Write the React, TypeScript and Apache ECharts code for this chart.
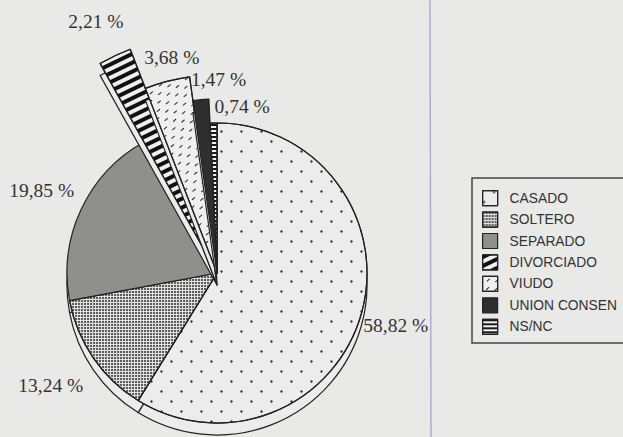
import React, { useEffect, useRef } from 'react';
import * as echarts from 'echarts';

// ---- data ----
const categories = ['CASADO', 'SOLTERO', 'SEPARADO', 'DIVORCIADO', 'VIUDO', 'UNION CONSEN', 'NS/NC'];
const percentages = [58.82, 13.24, 19.85, 2.21, 3.68, 1.47, 0.74];
const explodedCategories = ['DIVORCIADO', 'VIUDO', 'UNION CONSEN'];

// ---- layout & style ----
const CENTER: [number, number] = [217, 273];
const RADIUS = 150;
const DEPTH = 12;
const explodedRadius: Record<string, number> = { DIVORCIADO: 240, VIUDO: 198, 'UNION CONSEN': 174 };
const BORDER = '#222';
const BG = '#e9e9e8';
const SERIF = "'Liberation Serif', 'Times New Roman', serif";
const SANS = "'Liberation Sans', Arial, sans-serif";

const sliceStyles: Record<string, any> = {
  CASADO: {
    color: '#ececec',
    decal: { symbol: 'circle', symbolSize: 0.8, color: '#2a2a2a', dashArrayX: [[3, 17], [0, 10, 3, 7]], dashArrayY: [3, 7] },
  },
  SOLTERO: {
    color: '#e2e2e2',
    decal: { symbol: 'circle', symbolSize: 0.95, color: '#3a3a3a', dashArrayX: [2, 1], dashArrayY: [2, 1] },
  },
  SEPARADO: { color: '#8f908e' },
  DIVORCIADO: {
    color: '#efefef',
    decal: { symbol: 'rect', symbolSize: 1, color: '#111', dashArrayX: [1, 0], dashArrayY: [4, 4], rotation: -0.45 },
  },
  VIUDO: {
    color: '#efefef',
    decal: { symbol: 'rect', symbolSize: 1, color: '#222', dashArrayX: [[4, 8], [0, 6, 4, 2]], dashArrayY: [1, 5], rotation: -0.7 },
  },
  'UNION CONSEN': { color: '#2e2e2e' },
  'NS/NC': {
    color: '#f2f2f2',
    decal: { symbol: 'rect', symbolSize: 1, color: '#1a1a1a', dashArrayX: [1, 0], dashArrayY: [2, 2] },
  },
};

// label fine-tuning (pixels relative to the library's outside-label anchor)
const labelNudge: Record<string, { dx: number; dy: number; align?: string }> = {
  CASADO: { dx: -3, dy: 11 },
  SOLTERO: { dx: -5, dy: 28 },
  SEPARADO: { dx: -2, dy: -19 },
  'NS/NC': { dx: 6, dy: -17, align: 'left' },
  DIVORCIADO: { dx: -14, dy: -34, align: 'center' },
  VIUDO: { dx: -18, dy: -24, align: 'left' },
  'UNION CONSEN': { dx: -5, dy: -20, align: 'left' },
};

const fmt = (v: number) => `${v.toFixed(2).replace('.', ',')} %`;

const hidden = { color: 'rgba(0,0,0,0)', borderWidth: 0, borderColor: 'rgba(0,0,0,0)' };

function makePie(opts: {
  name: string;
  radius: number;
  center: [number, number];
  z: number;
  visible: (n: string) => boolean;
  rim: boolean;
  labels: (n: string) => boolean;
}) {
  return {
    type: 'pie',
    name: opts.name,
    z: opts.z,
    radius: [0, opts.radius],
    center: opts.center,
    startAngle: 90,
    clockwise: true,
    avoidLabelOverlap: false,
    silent: true,
    emphasis: { disabled: true, scale: false },
    label: {
      position: 'outside',
      fontFamily: SERIF,
      fontSize: 19.5,
      color: '#333',
      distanceToLabelLine: 5,
      formatter: (p: any) => fmt(p.value),
    },
    labelLine: { show: false, length: 0, length2: 0 },
    labelLayout: (p: any) => {
      const n = categories[p.dataIndex];
      const t = labelNudge[n] || { dx: 0, dy: 0 };
      const r: any = { dx: t.dx, dy: t.dy, hideOverlap: false, moveOverlap: false };
      if (t.align) r.align = t.align;
      return r;
    },
    data: categories.map((n, i) => {
      const vis = opts.visible(n);
      const style = !vis
        ? hidden
        : opts.rim
        ? { color: '#ececec', borderColor: BORDER, borderWidth: 1.2 }
        : { ...sliceStyles[n], borderColor: BORDER, borderWidth: 1.2 };
      return {
        name: n,
        value: percentages[i],
        itemStyle: style,
        label: { show: vis && !opts.rim && opts.labels(n) },
      };
    }),
  };
}

export default function App() {
  const ref = useRef<HTMLDivElement>(null);
  useEffect(() => {
    document.body.style.margin = '0';
    if (!ref.current) return;
    const chart = echarts.init(ref.current, undefined, { renderer: 'svg' });
    const rimCenter: [number, number] = [CENTER[0], CENTER[1] + DEPTH];
    const series: any[] = [
      makePie({
        name: 'top', radius: RADIUS, center: CENTER, z: 3,
        visible: () => true, rim: false,
        labels: (n) => !explodedCategories.includes(n),
      }),
      makePie({
        name: 'rim', radius: RADIUS, center: rimCenter, z: 2,
        visible: () => true, rim: true, labels: () => false,
      }),
    ];
    explodedCategories.forEach((c, k) => {
      series.push(
        makePie({
          name: 'rim-' + c, radius: explodedRadius[c], center: rimCenter, z: 4 + 2 * k,
          visible: (n) => n === c, rim: true, labels: () => false,
        })
      );
      series.push(
        makePie({
          name: 'top-' + c, radius: explodedRadius[c], center: CENTER, z: 5 + 2 * k,
          visible: (n) => n === c, rim: false, labels: (n) => n === c,
        })
      );
    });
    chart.setOption({
      animation: false,
      backgroundColor: BG,
      legend: {
        orient: 'vertical',
        left: 472,
        top: 178,
        data: categories,
        icon: 'rect',
        itemWidth: 15,
        itemHeight: 15,
        itemGap: 5.25,
        padding: [12, 40, 8, 10],
        borderColor: '#444',
        borderWidth: 1.5,
        backgroundColor: BG,
        selectedMode: false,
        itemStyle: { borderColor: BORDER, borderWidth: 1.2 },
        textStyle: { fontFamily: SANS, fontSize: 13.8, color: '#333', padding: [0, 0, 0, 7], lineHeight: 16 },
      },
      graphic: [
        {
          type: 'line',
          z: 0,
          shape: { x1: 430, y1: 0, x2: 431, y2: 437 },
          style: { stroke: '#b7aad0', lineWidth: 1.5 },
        },
      ],
      series,
    });
    return () => chart.dispose();
  }, []);
  return <div ref={ref} style={{ position: 'fixed', left: 0, top: 0, width: 623, height: 437 }} />;
}
